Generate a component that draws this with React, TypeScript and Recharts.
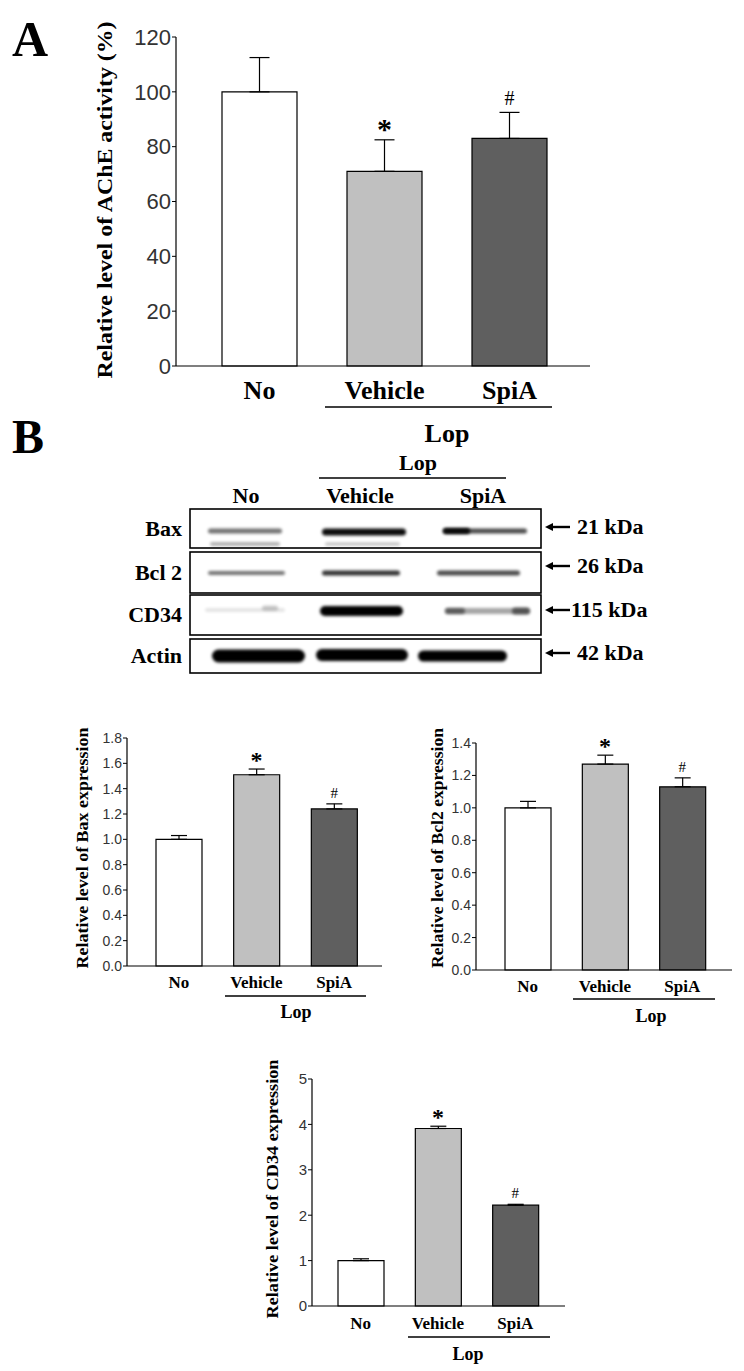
import { Bar, Cell, ComposedChart, ErrorBar, Scatter, XAxis, YAxis } from "recharts"

const groups = ["No", "Vehicle", "SpiA"]
const fills = ["#ffffff", "#c0c0c0", "#5f5f5f"]
const marks = ["", "*", "#"]

const acheValues = [100, 71, 83]
const acheErrors = [12.5, 11.5, 9.5]
const acheTicks = [0, 20, 40, 60, 80, 100, 120]

const baxValues = [1.0, 1.51, 1.24]
const baxErrors = [0.03, 0.045, 0.04]
const baxTicks = [0, 0.2, 0.4, 0.6, 0.8, 1.0, 1.2, 1.4, 1.6, 1.8]

const bcl2Values = [1.0, 1.27, 1.13]
const bcl2Errors = [0.04, 0.055, 0.055]
const bcl2Ticks = [0, 0.2, 0.4, 0.6, 0.8, 1.0, 1.2, 1.4]

const cd34Values = [1.0, 3.91, 2.22]
const cd34Errors = [0.04, 0.05, 0.02]
const cd34Ticks = [0, 1, 2, 3, 4, 5]

const blotRows = ["Bax", "Bcl 2", "CD34", "Actin"]
const blotSizes = ["21 kDa", "26 kDa", "115 kDa", "42 kDa"]

const serif = "'Liberation Serif', 'Times New Roman', serif"
const sans = "'Liberation Sans', Arial, sans-serif"

type Row = { group: string; value: number; err: number[]; top: number; mark: string }

function buildRows(values: number[], errors: number[]): Row[] {
  return groups.map((group, i) => ({
    group,
    value: values[i],
    err: [0, errors[i]],
    top: values[i] + errors[i],
    mark: marks[i],
  }))
}

type PanelProps = {
  rows: Row[]
  ticks: number[]
  digits: number
  left: number
  top: number
  width: number
  height: number
  margin: { top: number; right: number; bottom: number; left: number }
  pad: { left: number; right: number }
  barSize: number
  tickFont: number
  catFont: number
  catDy: number
  capWidth: number
  starFont: number
  hashFont: number
  hashDy: number
}

function BarPanel(p: PanelProps) {
  return (
    <div style={{ position: "absolute", left: p.left, top: p.top }}>
      <ComposedChart width={p.width} height={p.height} data={p.rows} margin={p.margin}>
        <XAxis
          dataKey="group"
          type="category"
          padding={p.pad}
          height={40}
          interval={0}
          axisLine={{ stroke: "#000", strokeWidth: 1.2 }}
          tickLine={false}
          tickSize={0}
          tickMargin={0}
          tick={(t: any) => (
            <text x={t.x} y={t.y + p.catDy} textAnchor="middle" fontFamily={serif} fontWeight="bold" fontSize={p.catFont} fill="#000">
              {t.payload.value}
            </text>
          )}
        />
        <YAxis
          type="number"
          domain={[p.ticks[0], p.ticks[p.ticks.length - 1]]}
          ticks={p.ticks}
          interval={0}
          width={p.left === 0 && p.top === 0 ? 60 : 50}
          axisLine={{ stroke: "#000", strokeWidth: 1.2 }}
          tickLine={{ stroke: "#000" }}
          tickSize={4}
          tickMargin={1}
          tick={{ fontSize: p.tickFont, fill: "#333", fontFamily: sans }}
          tickFormatter={(v: number) => v.toFixed(p.digits)}
        />
        <Bar dataKey="value" barSize={p.barSize} stroke="#000" strokeWidth={1.2} isAnimationActive={false}>
          {p.rows.map((r, i) => (
            <Cell key={r.group} fill={fills[i]} />
          ))}
          <ErrorBar dataKey="err" width={p.capWidth} stroke="#000" strokeWidth={1.2} direction="y" />
        </Bar>
        <Scatter
          dataKey="top"
          isAnimationActive={false}
          shape={(s: any) => {
            const m = s.payload?.mark
            if (!m) return <g />
            const star = m === "*"
            return (
              <text
                x={s.cx}
                y={star ? s.cy - 1 : s.cy - p.hashDy}
                textAnchor="middle"
                fontFamily={serif}
                fontWeight={star ? "bold" : "normal"}
                fontSize={star ? p.starFont : p.hashFont}
                fill="#000"
              >
                {m}
              </text>
            )
          }}
        />
      </ComposedChart>
    </div>
  )
}

function YLabel({ x, y, len, size, text }: { x: number; y: number; len: number; size: number; text: string }) {
  return (
    <text
      x={x}
      y={y}
      transform={`rotate(-90 ${x} ${y})`}
      textAnchor="middle"
      dominantBaseline="central"
      fontFamily={serif}
      fontWeight="bold"
      fontSize={size}
      textLength={len}
      lengthAdjust="spacingAndGlyphs"
    >
      {text}
    </text>
  )
}

function GroupLine({ x1, x2, y, lx, ly, size }: { x1: number; x2: number; y: number; lx: number; ly: number; size: number }) {
  return (
    <g>
      <line x1={x1} x2={x2} y1={y} y2={y} stroke="#000" strokeWidth={1.6} />
      <text x={lx} y={ly} textAnchor="middle" fontFamily={serif} fontWeight="bold" fontSize={size}>
        Lop
      </text>
    </g>
  )
}

function Blot() {
  const boxes = [
    [509, 548],
    [552, 593],
    [595, 635],
    [639, 673],
  ]
  const arrowY = [527, 566, 610, 653]
  // band geometry of the scanned blot: x1, x2, y, thickness, darkness
  const bands = [
    [208, 282, 531, 5, 0.55], [210, 280, 544, 4, 0.3],
    [322, 406, 532, 7, 0.95], [325, 400, 544, 3, 0.25],
    [443, 527, 531, 5, 0.7], [443, 470, 531, 6, 0.9],
    [208, 285, 573, 4, 0.55],
    [322, 400, 573, 5, 0.8],
    [437, 520, 573, 5, 0.7],
    [205, 285, 610, 4, 0.1], [262, 278, 608, 5, 0.2],
    [320, 403, 611, 10, 1],
    [445, 530, 611, 6, 0.35], [445, 465, 611, 6, 0.45], [512, 530, 611, 7, 0.5],
    [212, 305, 656, 13, 1],
    [316, 408, 655, 12, 1],
    [418, 507, 656, 11, 1],
  ]
  return (
    <g>
      <defs>
        <filter id="bandBlur" x="-20%" y="-100%" width="140%" height="300%">
          <feGaussianBlur stdDeviation="1.6" />
        </filter>
      </defs>
      <text x={418} y={470} textAnchor="middle" fontFamily={serif} fontWeight="bold" fontSize={22}>
        Lop
      </text>
      <line x1={319} x2={506} y1={478} y2={478} stroke="#000" strokeWidth={1.6} />
      {groups.map((g, i) => (
        <text key={g} x={[246, 360, 483][i]} y={503} textAnchor="middle" fontFamily={serif} fontWeight="bold" fontSize={22}>
          {g}
        </text>
      ))}
      {boxes.map(([y1, y2], i) => (
        <g key={blotRows[i]}>
          <rect x={190} y={y1} width={351} height={y2 - y1} fill="#fff" stroke="#000" strokeWidth={1.6} />
          <text x={182} y={(y1 + y2) / 2 + 7} textAnchor="end" fontFamily={serif} fontWeight="bold" fontSize={22}>
            {blotRows[i]}
          </text>
          <line x1={550} x2={570} y1={arrowY[i]} y2={arrowY[i]} stroke="#000" strokeWidth={2.4} />
          <polygon points={`${545},${arrowY[i]} ${553},${arrowY[i] - 4} ${553},${arrowY[i] + 4}`} fill="#000" />
          <text x={i === 2 ? 571 : 577} y={arrowY[i] + 7} fontFamily={serif} fontWeight="bold" fontSize={22}>
            {blotSizes[i]}
          </text>
        </g>
      ))}
      {bands.map(([x1, x2, y, h, o], i) => (
        <rect key={i} x={x1} y={y - h / 2} width={x2 - x1} height={h} rx={h / 2} fill="#000" opacity={o} filter="url(#bandBlur)" />
      ))}
    </g>
  )
}

export default function App() {
  return (
    <div style={{ position: "absolute", left: 0, top: 0, width: 744, height: 1371, background: "#fff", overflow: "hidden" }}>
      <BarPanel
        rows={buildRows(acheValues, acheErrors)}
        ticks={acheTicks}
        digits={0}
        left={0}
        top={0}
        width={600}
        height={420}
        margin={{ top: 37, right: 10, bottom: 14, left: 116 }}
        pad={{ left: 21, right: 18 }}
        barSize={75}
        tickFont={22}
        catFont={26}
        catDy={33}
        capWidth={10}
        starFont={30}
        hashFont={20}
        hashDy={7}
      />
      <BarPanel
        rows={buildRows(baxValues, baxErrors)}
        ticks={baxTicks}
        digits={1}
        left={0}
        top={700}
        width={400}
        height={320}
        margin={{ top: 38, right: 18, bottom: 14, left: 77 }}
        pad={{ left: 13, right: 9 }}
        barSize={46}
        tickFont={14}
        catFont={17}
        catDy={22}
        capWidth={8}
        starFont={24}
        hashFont={15}
        hashDy={6}
      />
      <BarPanel
        rows={buildRows(bcl2Values, bcl2Errors)}
        ticks={bcl2Ticks}
        digits={1}
        left={360}
        top={700}
        width={384}
        height={320}
        margin={{ top: 43, right: 12, bottom: 10, left: 66 }}
        pad={{ left: 13, right: 11 }}
        barSize={46}
        tickFont={14}
        catFont={17}
        catDy={22}
        capWidth={8}
        starFont={24}
        hashFont={15}
        hashDy={6}
      />
      <BarPanel
        rows={buildRows(cd34Values, cd34Errors)}
        ticks={cd34Ticks}
        digits={0}
        left={200}
        top={1040}
        width={400}
        height={331}
        margin={{ top: 39, right: 35, bottom: 25, left: 62 }}
        pad={{ left: 10, right: 11 }}
        barSize={46}
        tickFont={15}
        catFont={17}
        catDy={23}
        capWidth={8}
        starFont={24}
        hashFont={15}
        hashDy={6}
      />
      <svg width={744} height={1371} style={{ position: "absolute", left: 0, top: 0, pointerEvents: "none" }}>
        <text x={12} y={56} fontFamily={serif} fontWeight="bold" fontSize={50}>
          A
        </text>
        <text x={12} y={453} fontFamily={serif} fontWeight="bold" fontSize={48}>
          B
        </text>
        <YLabel x={105} y={200} len={357} size={20} text="Relative level of AChE activity (%)" />
        <YLabel x={82} y={848} len={241} size={16} text="Relative level of Bax expression" />
        <YLabel x={437} y={848} len={240} size={16} text="Relative level of Bcl2 expression" />
        <YLabel x={272} y={1189} len={259} size={16} text="Relative level of CD34 expression" />
        <GroupLine x1={325} x2={552} y={407} lx={447} ly={442} size={26} />
        <GroupLine x1={225} x2={366} y={996} lx={296} ly={1018} size={18} />
        <GroupLine x1={573} x2={715} y={999} lx={651} ly={1022} size={18} />
        <GroupLine x1={408} x2={550} y={1337} lx={468} ly={1360} size={18} />
        <Blot />
      </svg>
    </div>
  )
}
